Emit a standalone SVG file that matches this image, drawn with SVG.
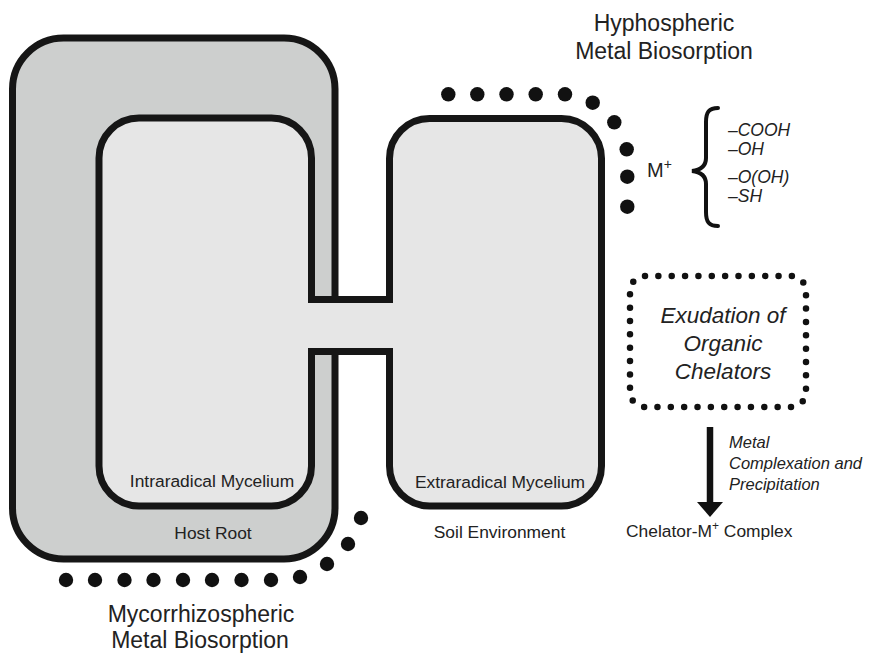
<svg xmlns="http://www.w3.org/2000/svg" width="872" height="653" viewBox="0 0 872 653">
<defs>
<style>
.t{font-family:"Liberation Sans",Arial,sans-serif;fill:#222}
.lbl{font-size:17.4px;text-anchor:middle}
.big{font-size:23px;text-anchor:middle}
.it{font-style:italic}
.box{stroke:#161616;stroke-width:7}
.dot{fill:#111}
</style>
<circle id="d" r="7.2" class="dot"/>
</defs>
<rect width="872" height="653" fill="#fff"/>

<g id="host-root">
<rect x="12.5" y="38" width="322.5" height="521" rx="51" ry="51" fill="#cdcfce" class="box"/>
<text class="t lbl" x="213" y="539">Host Root</text>
</g>

<g id="intraradical-mycelium">
<rect x="99" y="118" width="212.5" height="388" rx="40" ry="40" fill="#e6e6e6" class="box"/>
</g>

<g id="extraradical-mycelium">
<rect x="389.5" y="118.5" width="212" height="387.5" rx="40" ry="40" fill="#e6e6e6" class="box"/>
</g>

<g id="connectors">
<rect x="308" y="303" width="85" height="45" fill="#e6e6e6"/>
<line x1="308" y1="299.5" x2="393" y2="299.5" stroke="#161616" stroke-width="7"/>
<line x1="308" y1="351.5" x2="393" y2="351.5" stroke="#161616" stroke-width="7"/>
<line x1="710" y1="427" x2="710" y2="504" stroke="#111" stroke-width="6.5"/>
<polygon points="697,502 723,502 710,517" fill="#111"/>
</g>

<g id="mycelium-labels">
<text class="t lbl" x="212" y="487">Intraradical Mycelium</text>
<text class="t lbl" x="500" y="488">Extraradical Mycelium</text>
<text class="t lbl" x="499.5" y="538">Soil Environment</text>
</g>

<g id="hyphospheric-biosorption">
<use href="#d" x="448.3" y="94.3"/>
<use href="#d" x="477.3" y="94.3"/>
<use href="#d" x="506.5" y="94.3"/>
<use href="#d" x="535.7" y="94.3"/>
<use href="#d" x="565" y="94.3"/>
<use href="#d" x="592.7" y="102.7"/>
<use href="#d" x="614.3" y="122.3"/>
<use href="#d" x="626.7" y="149.3"/>
<use href="#d" x="627.3" y="176.7"/>
<use href="#d" x="627.3" y="206.7"/>
<text class="t big" x="664" y="31">Hyphospheric</text>
<text class="t big" x="664" y="59">Metal Biosorption</text>
</g>

<g id="mycorrhizospheric-biosorption">
<use href="#d" x="66" y="580"/>
<use href="#d" x="95" y="580"/>
<use href="#d" x="124.5" y="580"/>
<use href="#d" x="153.5" y="580"/>
<use href="#d" x="183" y="580"/>
<use href="#d" x="212" y="580"/>
<use href="#d" x="241.5" y="580"/>
<use href="#d" x="271" y="580"/>
<use href="#d" x="300" y="577"/>
<use href="#d" x="327" y="564"/>
<use href="#d" x="348" y="544"/>
<use href="#d" x="361" y="518"/>
<text class="t big" x="201" y="622">Mycorrhizospheric</text>
<text class="t big" x="200" y="648">Metal Biosorption</text>
</g>

<g id="metal-groups">
<text class="t" x="647" y="177" font-size="20">M<tspan font-size="14" dy="-8">+</tspan></text>
<path d="M718,108 C709,108 706,112 706,122 L706,158 C706,166 701,170 692,171 C701,172 706,176 706,184 L706,212 C706,222 709,226 718,226" fill="none" stroke="#111" stroke-width="4" stroke-linecap="round"/>
<text class="t it" x="728" y="136" font-size="17.5">–COOH</text>
<text class="t it" x="728" y="155" font-size="17.5">–OH</text>
<text class="t it" x="728" y="183" font-size="17.5">–O(OH)</text>
<text class="t it" x="728" y="202" font-size="17.5">–SH</text>
</g>

<g id="organic-chelators">
<rect x="630" y="276" width="176" height="131" rx="15" ry="15" fill="none" stroke="#111" stroke-width="6.5" stroke-linecap="round" stroke-dasharray="0 1" pathLength="44"/>
<text class="t it" x="723" y="323" font-size="22.5" text-anchor="middle">Exudation of</text>
<text class="t it" x="723" y="351" font-size="22.5" text-anchor="middle">Organic</text>
<text class="t it" x="723" y="379" font-size="22.5" text-anchor="middle">Chelators</text>
</g>

<g id="complexation-label">
<text class="t it" x="729" y="448" font-size="16.5">Metal</text>
<text class="t it" x="729" y="469" font-size="16.5">Complexation and</text>
<text class="t it" x="729" y="490" font-size="16.5">Precipitation</text>
</g>

<g id="chelator-complex">
<text class="t" x="626" y="537" font-size="17.4">Chelator-M<tspan font-size="12" dy="-7">+</tspan><tspan dy="7"> Complex</tspan></text>
</g>
</svg>
